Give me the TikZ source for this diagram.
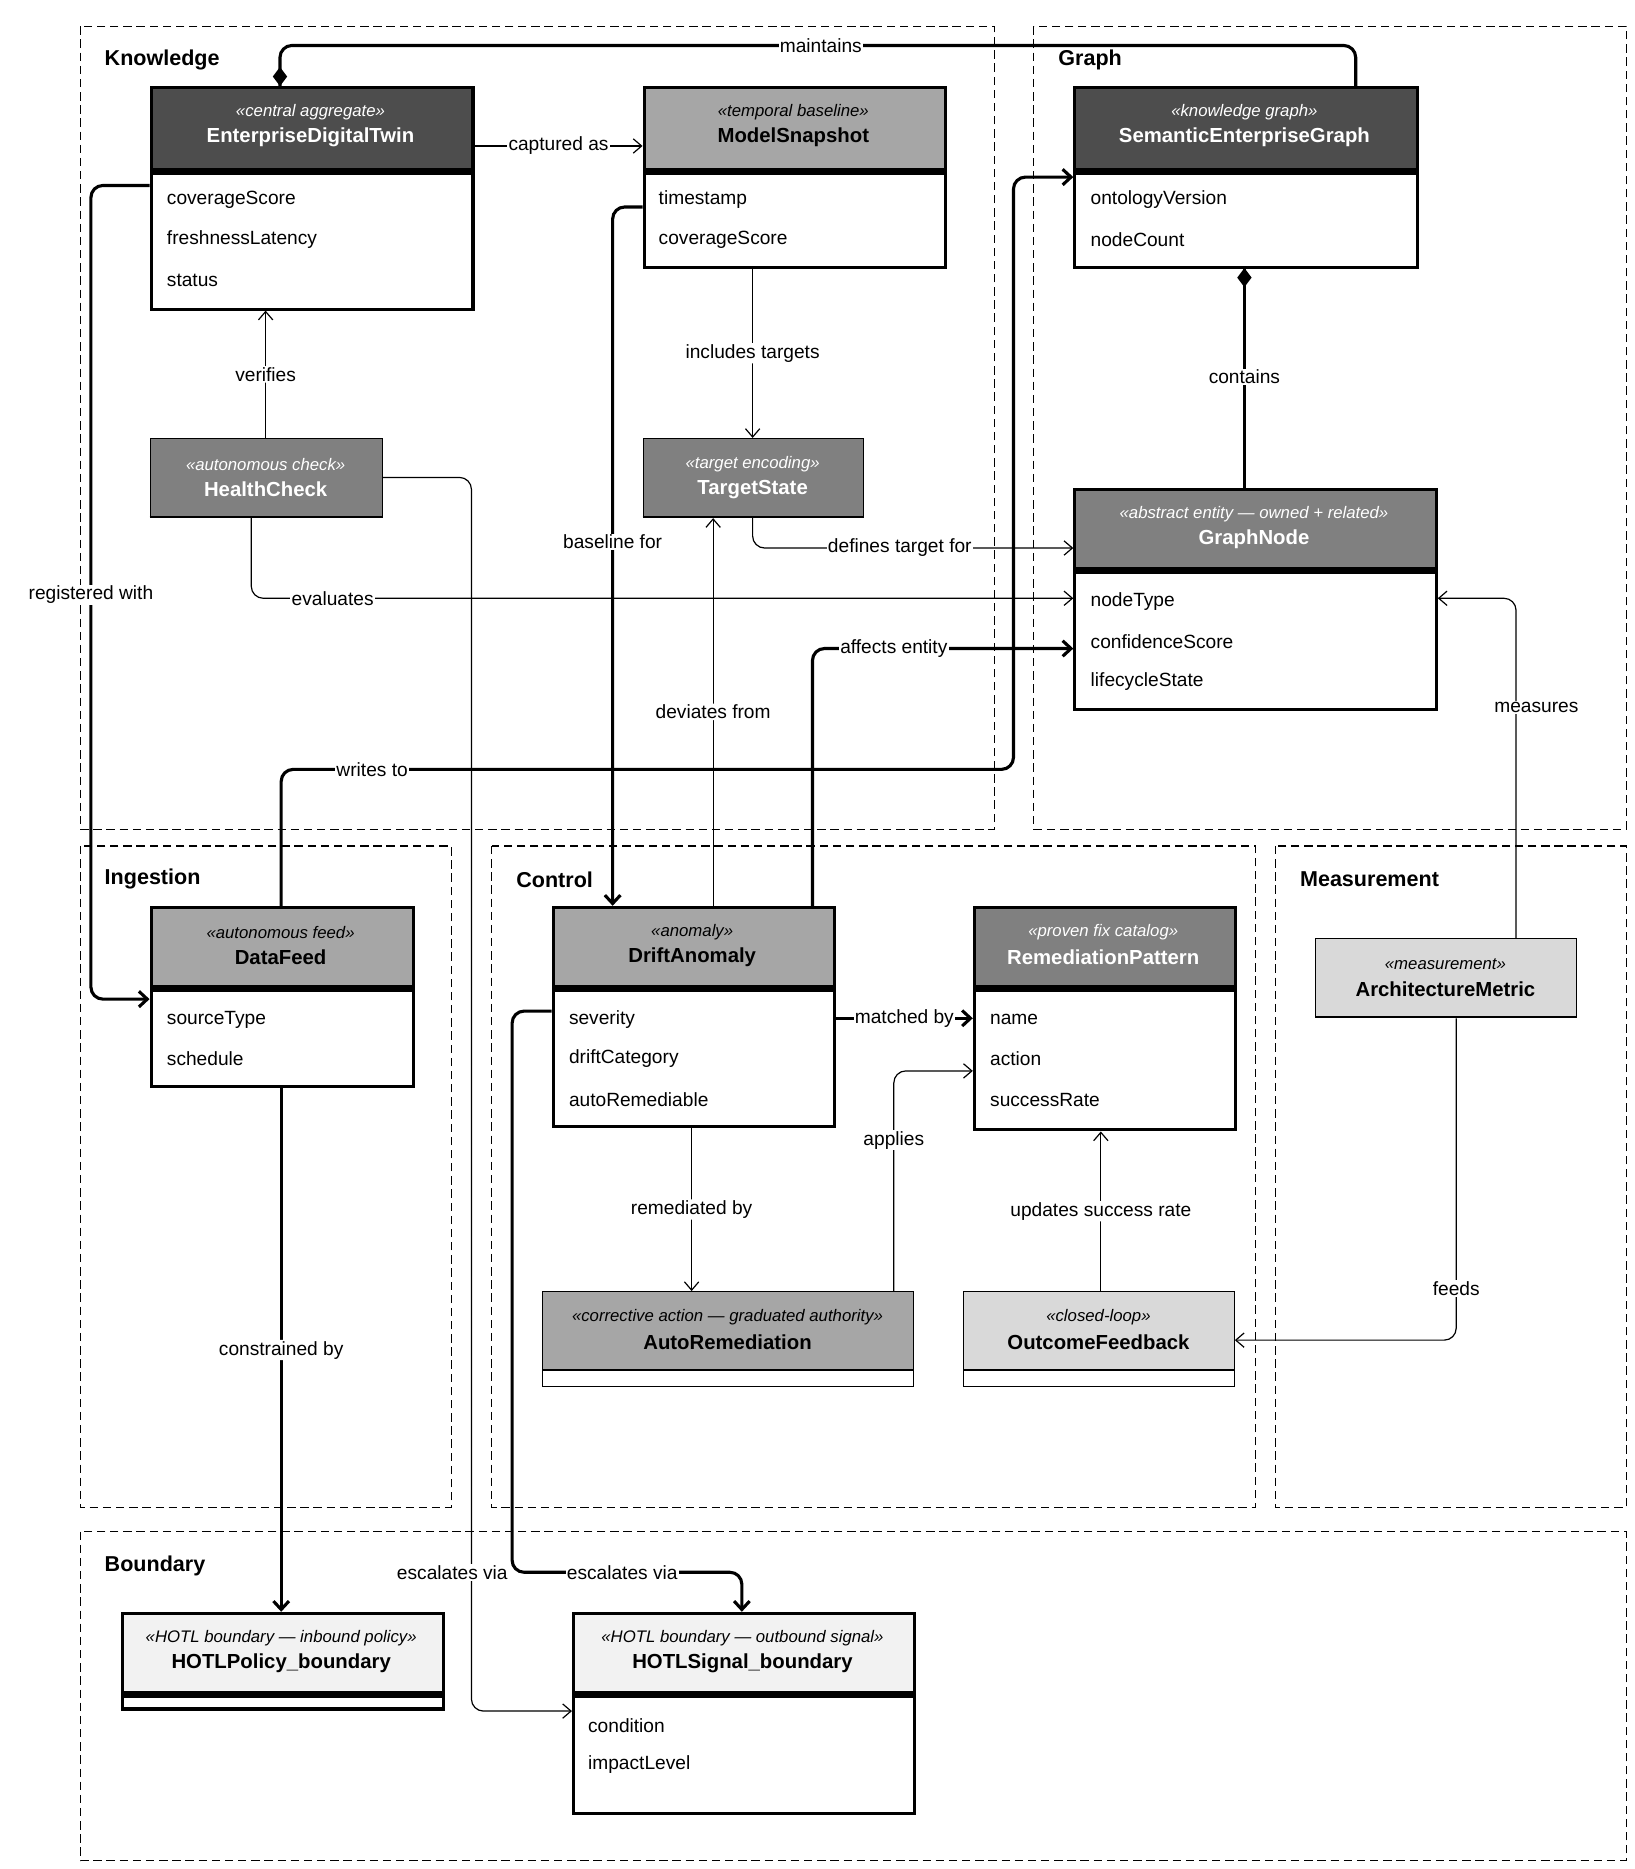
\documentclass[tikz,border=0pt]{standalone}
\usepackage{fontspec}
\setmainfont{Liberation Sans}
\usetikzlibrary{arrows.meta}
\definecolor{cdk}{HTML}{4D4D4D}
\definecolor{cmd}{HTML}{808080}
\definecolor{clt}{HTML}{A6A6A6}
\definecolor{cpl}{HTML}{D9D9D9}
\definecolor{cpp}{HTML}{F2F2F2}
\newcommand\clsthick[9]{%
 \fill[#7] (#2,#3) rectangle (#4,#6);
 \fill[black] (#2,#6) rectangle (#4,{#6+6});
 \node[#7,fill=none,font=\fontsize{14}{16}\selectfont\itshape] at ({(#2+#4)/2},{#3+22}) {#8};
 \node[#7,fill=none,font=\fontsize{17}{20}\selectfont\bfseries] at ({(#2+#4)/2},{#3+43}) {#9};
 \node[draw,line width=2.6pt,inner sep=0,minimum width={(#4-#2)*1pt},minimum height={(#5-#3)*1pt},anchor=north west] (#1) at (#2,#3) {};}
\newcommand\clsthin[9]{%
 \fill[#7] (#2,#3) rectangle (#4,#6);
 \draw[line width=1pt] (#2,#6) -- (#4,#6);
 \node[#7,fill=none,font=\fontsize{14}{16}\selectfont\itshape] at ({(#2+#4)/2},{#3+22}) {#8};
 \node[#7,fill=none,font=\fontsize{17}{20}\selectfont\bfseries] at ({(#2+#4)/2},{#3+43}) {#9};
 \node[draw,line width=1pt,inner sep=0,minimum width={(#4-#2)*1pt},minimum height={(#5-#3)*1pt},anchor=north west] (#1) at (#2,#3) {};}
\begin{document}
\begin{tikzpicture}[x=1pt,y=-1pt,
 sdk/.style={fill=cdk,text=white}, smd/.style={fill=cmd,text=white},
 slt/.style={fill=clt,text=black}, spl/.style={fill=cpl,text=black}, spp/.style={fill=cpp,text=black},
 frame/.style={draw,dashed,dash pattern=on 7pt off 4pt,line width=1pt},
 flab/.style={anchor=west,font=\fontsize{18}{21}\selectfont\bfseries},
 attr/.style={anchor=west,font=\fontsize{16}{19}\selectfont},
 lab/.style={fill=white,inner sep=1pt,font=\fontsize{16}{19}\selectfont},
 thin/.style={line width=1pt,rounded corners=10pt,-{Straight Barb[length=7pt,width=12pt]}},
 thk/.style={line width=2.6pt,rounded corners=10pt,-{Straight Barb[length=7pt,width=13pt]}},
 thkn/.style={line width=2.6pt,rounded corners=10pt},
 thinn/.style={line width=1pt,rounded corners=10pt}]
\useasboundingbox (0,0) rectangle (1366,1562);
% frames
\draw[frame] (67,22) rectangle (831,693); \node[flab] at (84,50) {Knowledge};
\draw[frame] (864,22) rectangle (1359,693); \node[flab] at (881,50) {Graph};
\draw[frame] (67,707) rectangle (377,1260); \node[flab] at (84,735) {Ingestion};
\draw[frame] (411,707) rectangle (1049,1260); \node[flab] at (428,735) {Control};
\draw[frame] (1066,707) rectangle (1359,1260); \node[flab] at (1083,735) {Measurement};
\draw[frame] (67,1280) rectangle (1359,1555); \node[flab] at (84,1309) {Boundary};
% classes
\clsthick{edt}{125}{72}{394}{257}{140}{sdk}{«central aggregate»}{EnterpriseDigitalTwin}
\node[attr] at (136,167) {coverageScore};
\node[attr] at (136,200) {freshnessLatency};
\node[attr] at (136,234) {status};
\clsthick{ms}{537}{72}{789}{222}{140}{slt}{«temporal baseline»}{ModelSnapshot}
\node[attr] at (547,167) {timestamp};
\node[attr] at (547,200) {coverageScore};
\clsthick{seg}{897}{72}{1183}{222}{140}{sdk}{«knowledge graph»}{SemanticEnterpriseGraph}
\node[attr] at (908,167) {ontologyVersion};
\node[attr] at (908,200) {nodeCount};
\clsthin{hc}{125}{366}{319}{432}{432}{smd}{«autonomous check»}{HealthCheck}
\clsthin{ts}{537}{366}{721}{432}{432}{smd}{«target encoding»}{TargetState}
\clsthick{gn}{897}{408}{1199}{592}{474}{smd}{«abstract entity — owned + related»}{GraphNode}
\node[attr] at (908,503) {nodeType};
\node[attr] at (908,536) {confidenceScore};
\node[attr] at (908,570) {lifecycleState};
\clsthick{df}{125}{757}{344}{907}{823}{slt}{«autonomous feed»}{DataFeed}
\node[attr] at (136,852) {sourceType};
\node[attr] at (136,885) {schedule};
\clsthick{da}{461}{757}{696}{940}{823}{slt}{«anomaly»}{DriftAnomaly}
\node[attr] at (472,852) {severity};
\node[attr] at (472,885) {driftCategory};
\node[attr] at (472,919) {autoRemediable};
\clsthick{rp}{813}{757}{1031}{943}{823}{smd}{«proven fix catalog»}{RemediationPattern}
\node[attr] at (824,852) {name};
\node[attr] at (824,885) {action};
\node[attr] at (824,919) {successRate};
\clsthin{am}{1099}{784}{1317}{850}{850}{spl}{«measurement»}{ArchitectureMetric}
\clsthin{ar}{453}{1079}{763}{1158}{1145}{slt}{«corrective action — graduated authority»}{AutoRemediation}
\clsthin{of}{805}{1079}{1031}{1158}{1145}{spl}{«closed-loop»}{OutcomeFeedback}
\clsthick{hp}{101}{1347}{369}{1427}{1413}{spp}{«HOTL boundary — inbound policy»}{HOTLPolicy\_boundary}
\clsthick{hs}{478}{1347}{763}{1514}{1413}{spp}{«HOTL boundary — outbound signal»}{HOTLSignal\_boundary}
\node[attr] at (488,1442) {condition};
\node[attr] at (488,1475) {impactLevel};
% connectors
\draw[thkn] (seg.north -| 1133,0) -- (1133,38) -- (234,38) -- (edt.north -| 234,0);
\fill (234,56) -- (240,64) -- (234,72) -- (228,64) -- cycle;
\node[lab] at (686,38) {maintains};
\draw[thin,rounded corners=0] (edt.east |- 0,122) -- (ms.west |- 0,122) node[lab,midway] {captured as};
\draw[thk] (edt.west |- 0,155) -- (76,155) -- (76,835) -- (df.west |- 0,835);
\node[lab] at (76,497) {registered with};
\draw[thk] (ms.west |- 0,173) -- (512,173) -- (da.north -| 512,0);
\node[lab] at (512,453) {baseline for};
\draw[thin] (ms.south -| 629,0) -- (ts.north -| 629,0) node[lab,midway] {includes targets};
\draw[thin] (hc.north -| 222,0) -- (edt.south -| 222,0) node[lab,midway] {verifies};
\draw[thin] (hc.south -| 210,0) -- (210,500) -- (gn.west |- 0,500);
\node[lab] at (278,500) {evaluates};
\draw[thin] (hc.east |- 0,399) -- (394,399) -- (394,1430) -- (hs.west |- 0,1430);
\node[lab] at (378,1314) {escalates via};
\draw[thin] (ts.south -| 629,0) -- (629,458) -- (gn.west |- 0,458);
\node[lab] at (752,458) {defines target for};
\draw[thkn] (gn.north -| 1040,0) -- (seg.south -| 1040,0);
\fill (1040,224) -- (1046,232) -- (1040,240) -- (1034,232) -- cycle;
\node[lab] at (1040,315) {contains};
\draw[thin] (da.north -| 596,0) -- (ts.south -| 596,0) node[lab,midway] {deviates from};
\draw[thk] (da.north -| 679,0) -- (679,542) -- (gn.west |- 0,542);
\node[lab] at (747,542) {affects entity};
\draw[thk] (df.north -| 235,0) -- (235,643) -- (847,643) -- (847,148) -- (seg.west |- 0,148);
\node[lab] at (311,643) {writes to};
\draw[thin] (am.north -| 1267,0) -- (1267,500) -- (gn.east |- 0,500);
\node[lab] at (1284,591) {measures};
\draw[thk,rounded corners=0] (da.east |- 0,851) -- (rp.west |- 0,851) node[lab,midway] {matched by};
\draw[thin] (da.south -| 578,0) -- (ar.north -| 578,0) node[lab,midway] {remediated by};
\draw[thin] (ar.north -| 747,0) -- (747,895) -- (rp.west |- 0,895);
\node[lab] at (747,953) {applies};
\draw[thin] (of.north -| 920,0) -- (rp.south -| 920,0) node[lab,midway] {updates success rate};
\draw[thin] (am.south -| 1217,0) -- (1217,1120) -- (of.east |- 0,1120);
\node[lab] at (1217,1077) {feeds};
\draw[thk] (df.south -| 235,0) -- (hp.north -| 235,0) node[lab,midway] {constrained by};
\draw[thk] (da.west |- 0,845) -- (428,845) -- (428,1314) -- (620,1314) -- (hs.north -| 620,0);
\node[lab] at (520,1314) {escalates via};
\end{tikzpicture}
\end{document}
